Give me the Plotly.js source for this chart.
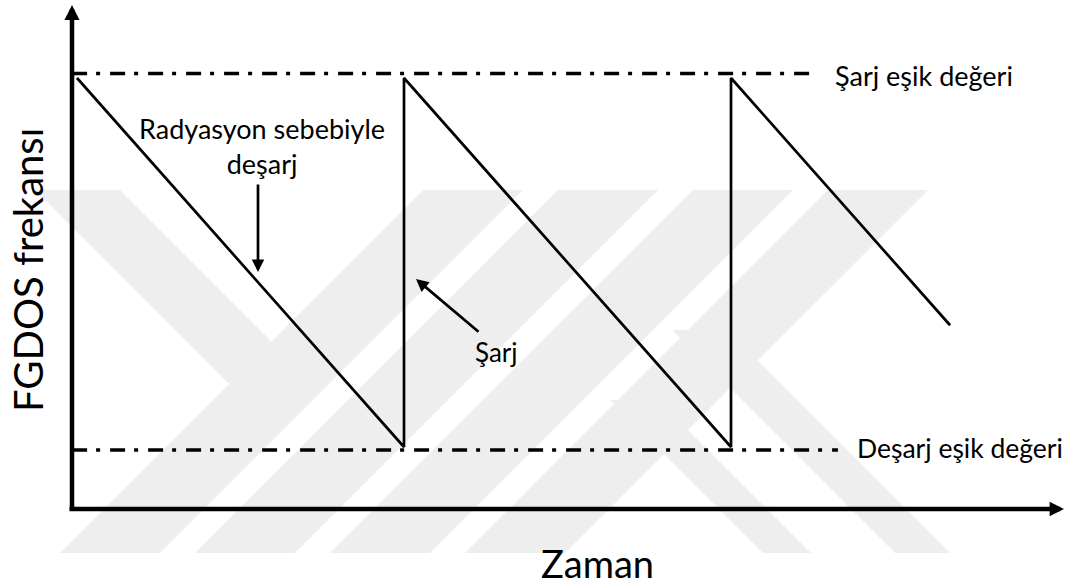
<!DOCTYPE html>
<html>
<head>
<meta charset="utf-8">
<script src="https://cdn.plot.ly/plotly-3.0.1.min.js"></script>
<style>
  html, body { margin: 0; padding: 0; background: #fff; }
  #chart { width: 1075px; height: 587px; }
</style>
</head>
<body>
<div id="chart"></div>
<script>
const W = 1075, H = 587;

// FGDOS frequency over time (arbitrary units): discharge ramps, instant recharge
const time = [0, 1, 1, 2, 2, 2.67];
const frequency = [1, 0, 1, 0, 1, 0.33];

// threshold levels and how far their dash-dot lines run
const chargeThreshold = 1.012;
const dischargeThreshold = -0.008;
const chargeLineTime = [-0.015, 2.251];
const dischargeLineTime = [-0.015, 2.327];

// texts
const xTitle = 'Zaman';
const yTitle = 'FGDOS frekansı';
const chargeLabel = 'Şarj eşik değeri';
const dischargeLabel = 'Deşarj eşik değeri';
const radiationLabel = 'Radyasyon sebebiyle<br>deşarj';
const chargeNote = 'Şarj';

// pixel -> paper (margins are zero, so paper == page)
function px(x) { return x / W; }
function py(y) { return 1 - y / H; }
function poly(pts) {
  return 'M' + pts.map(p => px(p[0]).toFixed(4) + ',' + py(p[1]).toFixed(4)).join(' L') + ' Z';
}

const font = 'Lato, "Open Sans", sans-serif';
const dashDot = '15px,9px,4px,10px';

// faint watermark bands behind everything
const grey = '#eeeeee';
const bandTop = 190, bandBottom = 553;
const rise = bandBottom - bandTop;
const shapes = [];
function band(pts) {
  shapes.push({
    type: 'path', xref: 'paper', yref: 'paper', layer: 'below',
    path: poly(pts), fillcolor: grey, line: {width: 0}
  });
}
[60, 195, 330, 465].forEach(function(x0) {
  band([[x0, bandBottom], [x0 + 100, bandBottom], [x0 + 100 + rise, bandTop], [x0 + rise, bandTop]]);
});
// upper arm of the left chevron
band([[35, bandTop], [120, bandTop], [272, 342], [229, 384]]);
// right-hand "\" bands
band([[672, 330], [727, 330], [950, bandBottom], [895, bandBottom]]);
band([[610, 400], [658, 400], [811, bandBottom], [763, bandBottom]]);

const traces = [
  {
    x: chargeLineTime, y: [chargeThreshold, chargeThreshold],
    mode: 'lines', line: {color: '#000', width: 3.5, dash: dashDot},
    hoverinfo: 'skip', showlegend: false
  },
  {
    x: dischargeLineTime, y: [dischargeThreshold, dischargeThreshold],
    mode: 'lines', line: {color: '#000', width: 3.5, dash: dashDot},
    hoverinfo: 'skip', showlegend: false
  },
  {
    x: time, y: frequency,
    mode: 'lines', line: {color: '#000', width: 2.7},
    hoverinfo: 'skip', showlegend: false
  }
];

function arrow(tx, ty, ax, ay, width, size) {
  return {
    xref: 'paper', yref: 'paper', x: px(tx), y: py(ty),
    ax: ax, ay: ay, text: '', showarrow: true,
    arrowhead: 2, arrowsize: size, arrowwidth: width, arrowcolor: '#000',
    standoff: 0, startstandoff: 0
  };
}

function label(text, x, y, size, xanchor, yanchor, angle) {
  return {
    xref: 'paper', yref: 'paper', x: px(x), y: py(y),
    text: text, showarrow: false,
    xanchor: xanchor || 'center', yanchor: yanchor || 'middle',
    textangle: angle || 0, borderpad: 0,
    font: {family: font, size: size, color: '#000'}
  };
}

const annotations = [
  // axes
  arrow(72, 5, 0, 506, 4.5, 0.67),
  arrow(1064, 509, -996, 0, 4.5, 0.64),
  // pointers
  arrow(258, 272, 0, -89, 2.7, 0.93),
  arrow(416, 279, 64, 54, 2.7, 0.93),
  // texts
  label(chargeLabel, 834, 75, 27, 'left'),
  label(dischargeLabel, 856, 448, 26.5, 'left'),
  label(radiationLabel, 262, 146, 27),
  label(chargeNote, 496, 352, 26),
  label(xTitle, 597, 587, 38, 'center', 'bottom'),
  label(yTitle, 28, 270, 40, 'center', 'middle', -90)
];

const layout = {
  width: W, height: H,
  margin: {l: 0, r: 0, t: 0, b: 0},
  paper_bgcolor: '#fff', plot_bgcolor: 'rgba(0,0,0,0)',
  xaxis: {range: [-77 / 327, (W - 77) / 327], visible: false, fixedrange: true},
  yaxis: {range: [(447 - H) / 369, 447 / 369], visible: false, fixedrange: true},
  shapes: shapes,
  annotations: annotations
};

Plotly.newPlot('chart', traces, layout, {staticPlot: true, displayModeBar: false});
</script>
</body>
</html>
